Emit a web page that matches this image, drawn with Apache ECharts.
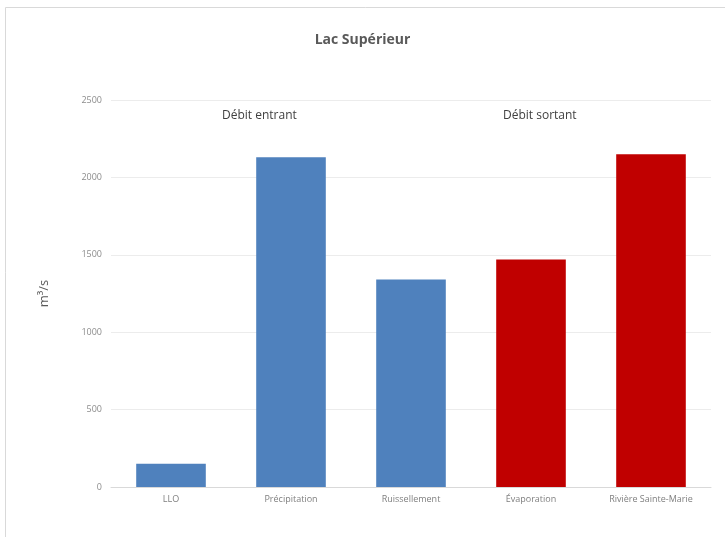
<!DOCTYPE html>
<html>
<head>
<meta charset="utf-8">
<script src="https://cdn.jsdelivr.net/npm/echarts@6/dist/echarts.min.js"></script>
<style>
  html, body { margin: 0; padding: 0; background: #fff; }
  #main { width: 725px; height: 537px; }
</style>
</head>
<body>
<div id="main"></div>
<script>
// valeurs (m3/s)
const categories = ['LLO', 'Précipitation', 'Ruissellement', 'Évaporation', 'Rivière Sainte-Marie'];
const debits = [150, 2130, 1340, 1470, 2150];
const couleurs = ['#4f81bd', '#4f81bd', '#4f81bd', '#c00000', '#c00000'];
const yTicks = [0, 500, 1000, 1500, 2000, 2500];

const font = "'Liberation Sans Narrow', 'Open Sans', sans-serif";

let myChart = echarts.init(document.getElementById('main'));

let option = {
  animation: false,
  title: {
    text: 'Lac Supérieur',
    left: 'center',
    top: 28,
    textStyle: { color: '#595959', fontSize: 14, fontWeight: 'bold', fontFamily: font }
  },
  grid: { left: 111, right: 14, top: 100, bottom: 50 },
  graphic: [
    {
      type: 'rect', shape: { x: 5.5, y: 7.5, width: 730, height: 540 },
      style: { fill: 'none', stroke: '#d9d9d9', lineWidth: 1 }, silent: true
    },
    {
      type: 'text', left: 222, top: 110,
      style: { text: 'Débit entrant', fill: '#404040', fontSize: 12, fontFamily: font }
    },
    {
      type: 'text', left: 503, top: 110,
      style: { text: 'Débit sortant', fill: '#404040', fontSize: 12, fontFamily: font }
    }
  ],
  xAxis: {
    type: 'category',
    data: categories,
    axisLine: { lineStyle: { color: '#d9d9d9' } },
    axisTick: { show: false },
    axisLabel: { interval: 0, color: '#7f7f7f', fontSize: 9, fontFamily: font, margin: 8 }
  },
  yAxis: {
    type: 'value',
    min: yTicks[0],
    max: yTicks[yTicks.length - 1],
    interval: 500,
    name: 'm³/s',
    nameLocation: 'middle',
    nameGap: 60,
    nameTextStyle: { color: '#595959', fontSize: 13, fontFamily: font },
    axisLine: { show: false },
    axisTick: { show: false },
    axisLabel: { color: '#8c8c8c', fontSize: 9, fontFamily: font, margin: 9, formatter: v => String(v) },
    splitLine: { lineStyle: { color: '#ececec' } }
  },
  series: [
    {
      type: 'bar',
      barWidth: '58%',
      data: debits.map((v, i) => ({ value: v, itemStyle: { color: couleurs[i] } }))
    }
  ]
};

myChart.setOption(option);
</script>
</body>
</html>
